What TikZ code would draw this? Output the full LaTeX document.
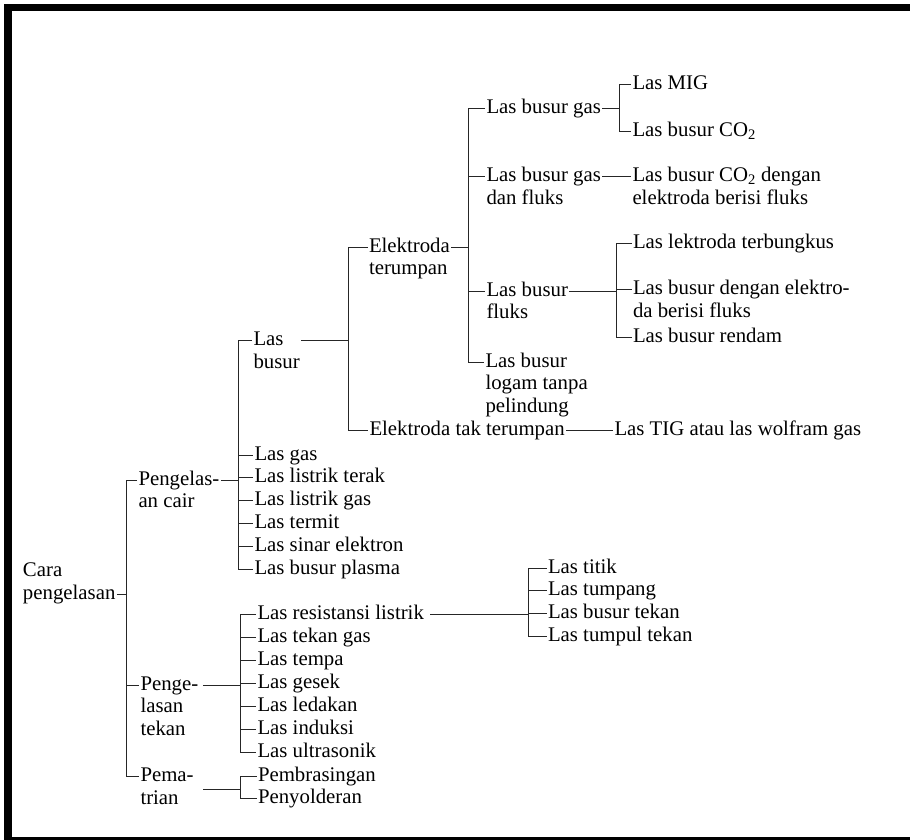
\documentclass[tikz,border=0pt]{standalone}
\usepackage{fontspec}
\setmainfont{Liberation Serif}
\newcommand{\txtlines}[1]{\begin{tabular}[t]{@{}l@{}}#1\end{tabular}}
\begin{document}
\begin{tikzpicture}[x=1pt,y=-1pt,
  lbl/.style={anchor=west,inner sep=0pt,outer sep=1.5pt,
    text height=14pt,text depth=4pt,font=\fontsize{20.8}{22.8}\selectfont},
  conn/.style={line width=0.9pt,black!85}]
  \useasboundingbox (0,0) rectangle (910,839);
  \clip (0,0) rectangle (910,839);
  \draw[line width=7.5pt] (8,7.5) rectangle (930,840.5);

  % root and main branches
  \node[lbl] (cara) at (21.5,571.5) {\txtlines{Cara\\pengelasan}};
  \node[lbl] (cair) at (137,480) {\txtlines{Pengelas-\\an cair}};
  \node[lbl] (tekan) at (139,685) {\txtlines{Penge-\\lasan\\tekan}};
  \node[lbl] (patri) at (139,776.5) {\txtlines{Pema-\\trian}};

  % pengelasan cair
  \node[lbl] (busur) at (252,340.5) {\txtlines{Las\\busur}};
  \node[lbl] (gas) at (253,455) {Las gas};
  \node[lbl] (terak) at (253,477.8) {Las listrik terak};
  \node[lbl] (lgas) at (253,500.6) {Las listrik gas};
  \node[lbl] (termit) at (253,523.4) {Las termit};
  \node[lbl] (sinar) at (253,546.2) {Las sinar elektron};
  \node[lbl] (plasma) at (253,569) {Las busur plasma};

  % las busur
  \node[lbl] (habis) at (367.5,247) {\txtlines{Elektroda\\terumpan}};
  \node[lbl] (tetap) at (368,430) {Elektroda tak terumpan};
  \node[lbl] (tig) at (613,430) {Las TIG atau las wolfram gas};
  \node[lbl] (bgas) at (485,108.5) {Las busur gas};
  \node[lbl] (bgasf) at (485,176.5) {\txtlines{Las busur gas\\dan fluks}};
  \node[lbl] (bfluks) at (485,291) {\txtlines{Las busur\\fluks}};
  \node[lbl] (blogam) at (484,362) {\txtlines{Las busur\\logam tanpa\\pelindung}};
  \node[lbl] (mig) at (631,84) {Las MIG};
  \node[lbl] (co) at (631,131) {Las busur CO\textsubscript{2}};
  \node[lbl] (cof) at (631,176.5) {\txtlines{Las busur CO\textsubscript{2} dengan\\elektroda berisi fluks}};
  \node[lbl] (bungkus) at (631.5,243.5) {Las lektroda terbungkus};
  \node[lbl] (belek) at (631.5,289.5) {\txtlines{Las busur dengan elektro-\\da berisi fluks}};
  \node[lbl] (rendam) at (631.5,337.3) {Las busur rendam};

  % pengelasan tekan
  \node[lbl] (resis) at (256,614.5) {Las resistansi listrik};
  \node[lbl] (tgas) at (256,637.5) {Las tekan gas};
  \node[lbl] (tempa) at (256,660.5) {Las tempa};
  \node[lbl] (gesek) at (256,683.5) {Las gesek};
  \node[lbl] (ledak) at (256,706.5) {Las ledakan};
  \node[lbl] (induksi) at (256,729.5) {Las induksi};
  \node[lbl] (ultra) at (256,752.5) {Las ultrasonik};
  \node[lbl] (titik) at (546.5,568) {Las titik};
  \node[lbl] (tumpang) at (546.5,590.5) {Las tumpang};
  \node[lbl] (btekan) at (546.5,613.5) {Las busur tekan};
  \node[lbl] (tumpul) at (546.5,636) {Las tumpul tekan};

  % pematrian
  \node[lbl] (brasing) at (256.5,776.5) {Pembrasingan};
  \node[lbl] (solder) at (256.5,798.5) {Penyolderan};

  % bracket columns
  \coordinate (v0) at (126.5,0);
  \coordinate (v1) at (238.5,0);
  \coordinate (v2) at (240,0);
  \coordinate (v3) at (348,0);
  \coordinate (v4) at (468,0);
  \coordinate (v5) at (619,0);
  \coordinate (v6) at (616,0);
  \coordinate (v7) at (528.5,0);
  \coordinate (cara2) at ([yshift=-22.8pt]cara.east);
  \coordinate (patri2) at ([xshift=8pt,yshift=-12.6pt]patri.east);

  % connectors
  \draw[conn] (cara2) -- (cara2 -| v0);
  \draw[conn] (cair.west) -- (cair.west -| v0) -- (patri.west -| v0) -- (patri.west);
  \draw[conn] (tekan.west -| v0) -- (tekan.west);

  \draw[conn] (cair.east) -- (cair.east -| v1);
  \draw[conn] (busur.west) -- (busur.west -| v1) -- (plasma.west -| v1) -- (plasma.west);
  \foreach \c in {gas,terak,lgas,termit,sinar}
    \draw[conn] (\c.west -| v1) -- (\c.west);

  \draw[conn] (busur.east) -- (busur.east -| v3);
  \draw[conn] (habis.west) -- (habis.west -| v3) -- (tetap.west -| v3) -- (tetap.west);
  \draw[conn] (tetap.east) -- (tig.west);

  \draw[conn] (habis.east) -- (habis.east -| v4);
  \draw[conn] (bgas.west) -- (bgas.west -| v4) -- (blogam.west -| v4) -- (blogam.west);
  \foreach \c in {bgasf,bfluks}
    \draw[conn] (\c.west -| v4) -- (\c.west);

  \draw[conn] (bgas.east) -- (bgas.east -| v5);
  \draw[conn] (mig.west) -- (mig.west -| v5) -- (co.west -| v5) -- (co.west);
  \draw[conn] (bgasf.east) -- (cof.west);

  \draw[conn] (bfluks.east) -- (bfluks.east -| v6);
  \draw[conn] (bungkus.west) -- (bungkus.west -| v6) -- (rendam.west -| v6) -- (rendam.west);
  \draw[conn] (belek.west -| v6) -- (belek.west);

  \draw[conn] ([xshift=3pt]tekan.east) -- (tekan.east -| v2);
  \draw[conn] (resis.west) -- (resis.west -| v2) -- (ultra.west -| v2) -- (ultra.west);
  \foreach \c in {tgas,tempa,gesek,ledak,induksi}
    \draw[conn] (\c.west -| v2) -- (\c.west);

  \draw[conn] ([xshift=5pt]resis.east) -- (resis.east -| v7);
  \draw[conn] (titik.west) -- (titik.west -| v7) -- (tumpul.west -| v7) -- (tumpul.west);
  \foreach \c in {tumpang,btekan}
    \draw[conn] (\c.west -| v7) -- (\c.west);

  \draw[conn] (patri2) -- (patri2 -| v2);
  \draw[conn] (brasing.west) -- (brasing.west -| v2) -- (solder.west -| v2) -- (solder.west);
\end{tikzpicture}
\end{document}
